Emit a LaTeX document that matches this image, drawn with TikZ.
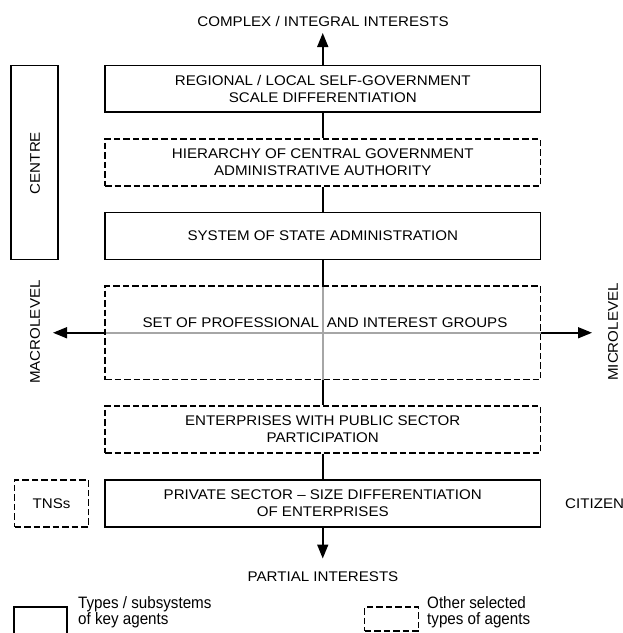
\documentclass[tikz,border=0pt]{standalone}
\usepackage{fontspec}
\setmainfont{Liberation Sans}[FakeStretch=1.08]
\newfontfamily\legfont{Liberation Sans}[FakeStretch=0.92]
\usetikzlibrary{arrows.meta,backgrounds}
\begin{document}
\begin{tikzpicture}[x=1pt,y=-1pt,
  box/.style={draw,line width=1.6pt,minimum width=435.5pt,minimum height=46.7pt,
    align=center,inner sep=0pt,font=\fontsize{14}{17}\selectfont},
  dbox/.style={box,dash pattern=on 6.5pt off 3pt},
  lbl/.style={font=\fontsize{14}{17}\selectfont,inner sep=0pt},
  conn/.style={line width=1.6pt},
  arr/.style={conn,-{Triangle[length=14pt,width=11pt]}},
  grayline/.style={line width=1.6pt,draw=black!35},
  legtext/.style={anchor=north west,align=left,inner sep=0pt,
    font=\legfont\fontsize{16.5}{16}\selectfont}]
\useasboundingbox (0,0) rectangle (623,633);
% main column
\node[box]  (b1) at (322.75,88.9)  {REGIONAL / LOCAL SELF-GOVERNMENT\\SCALE DIFFERENTIATION};
\node[dbox] (b2) at (322.75,162.4) {HIERARCHY OF CENTRAL GOVERNMENT\\ADMINISTRATIVE AUTHORITY};
\node[box]  (b3) at (322.75,236)   {SYSTEM OF STATE ADMINISTRATION};
\node[dbox,minimum height=93.5pt] (b4) at (322.75,332.75) {};
\node[lbl]  (b4t) at (325,323) {SET OF PROFESSIONAL\hspace{0.25em} AND INTEREST GROUPS};
\node[dbox] (b5) at (322.75,429.5) {ENTERPRISES WITH PUBLIC SECTOR\\PARTICIPATION};
\node[box]  (b6) at (322.75,503.4) {PRIVATE SECTOR – SIZE DIFFERENTIATION\\OF ENTERPRISES};
% side elements
\node[box,minimum width=47pt,minimum height=194pt] (centre) at (34.5,162.5) {};
\node[lbl,rotate=90] (centret) at (35,163) {CENTRE};
\node[dbox,minimum width=74pt] (tns) at (51.6,503.4) {TNSs};
\node[lbl,anchor=west] (cit) at (565,503.4) {CITIZEN};
\node[lbl] (toplbl) at (323,21) {COMPLEX / INTEGRAL INTERESTS};
\node[lbl] (botlbl) at (323,577) {PARTIAL INTERESTS};
\node[lbl,rotate=90] (macro) at (35,332) {MACROLEVEL};
\node[lbl,rotate=90] (micro) at (613,332) {MICROLEVEL};
\coordinate (topTip) at (322.75,33);
\coordinate (botTip) at (322.75,558.5);
\coordinate (lTip) at (53,332.75);
\coordinate (rTip) at (592,332.75);
% connectors
\draw[arr]  (b1.north) -- (topTip);
\draw[conn] (b1.south) -- (b2.north);
\draw[conn] (b2.south) -- (b3.north);
\draw[conn] (b3.south) -- (b4.north);
\draw[conn] (b4.south) -- (b5.north);
\draw[conn] (b5.south) -- (b6.north);
\draw[arr]  (b6.south) -- (botTip);
\draw[arr]  (b4.west) -- (lTip);
\draw[arr]  (b4.east) -- (rTip);
\begin{scope}[on background layer]
  \fill[white] (0,0) rectangle (623,633);
  \draw[grayline] (b4.west) -- (b4.east);
  \draw[grayline] (b4.north) -- (b4.south);
\end{scope}
% legend
\node[draw,line width=1.6pt,minimum width=53pt,minimum height=27pt,inner sep=0pt] (leg1) at (40.5,620.5) {};
\node[draw,line width=1.6pt,dash pattern=on 6.5pt off 3pt,minimum width=54pt,minimum height=24pt,inner sep=0pt] (leg2) at (391.5,619) {};
\node[legtext] (leg1t) at (78,596) {Types / subsystems\\of key agents};
\node[legtext] (leg2t) at (427,596) {Other selected\\types of agents};
\end{tikzpicture}
\end{document}
